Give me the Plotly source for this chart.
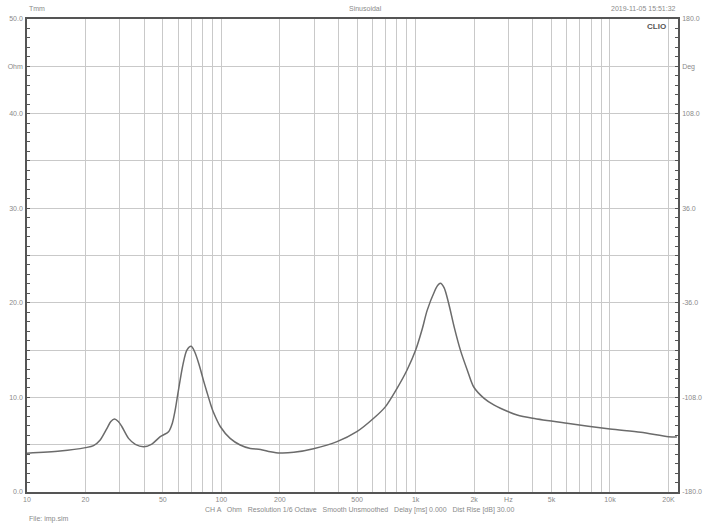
import plotly.graph_objects as go

# impedance curve
freq_hz = [10, 14.8, 20, 22, 23.8, 25.8, 27, 28.2, 29.5, 30.8, 33.3, 36.1, 39.8, 43.9,
           48.5, 53.5, 56, 57.9, 60.2, 63.5, 66.5, 70, 73, 77, 80.9, 84.2, 88, 91.2, 98.9,
           111, 125, 141, 159, 179, 200, 236, 298, 394, 498, 608, 698, 802, 903,
           1000, 1080, 1146, 1250, 1300, 1340, 1400, 1478, 1580, 1699, 1850, 1990,
           2250, 2524, 2729, 3327, 4000, 6010, 10000, 14400, 20000, 22100]
impedance_ohm = [4.10, 4.33, 4.69, 4.90, 5.50, 6.73, 7.45, 7.72, 7.45, 6.90, 5.67, 5.04,
                 4.79, 5.07, 5.85, 6.37, 7.3, 8.67, 10.8, 13.5, 15.0, 15.4, 14.8, 13.4,
                 11.8, 10.6, 9.3, 8.4, 6.9, 5.67, 4.97, 4.60, 4.50, 4.26, 4.12, 4.19, 4.58,
                 5.32, 6.37, 7.79, 9.0, 10.96, 12.9, 15.0, 17.2, 19.2, 21.2, 21.85, 22.06,
                 21.6, 19.95, 17.4, 15.0, 12.8, 11.1, 9.9, 9.2, 8.85, 8.14, 7.79, 7.26,
                 6.66, 6.31, 5.85, 5.81]

# axes
x_grid = [10, 20, 30, 40, 50, 60, 70, 80, 90, 100, 200, 300, 400, 500, 600, 700, 800, 900,
          1000, 2000, 3000, 4000, 5000, 6000, 7000, 8000, 9000, 10000, 20000]
x_labels = {10: "10", 20: "20", 50: "50", 100: "100", 200: "200", 500: "500",
            1000: "1k", 2000: "2k", 3000: "Hz", 5000: "5k", 10000: "10k", 20000: "20K"}
ohm_ticks = [0, 5, 10, 15, 20, 25, 30, 35, 40, 45, 50]
ohm_text = ["0.0", "", "10.0", "", "20.0", "", "30.0", "", "40.0", "Ohm", "50.0"]
deg_ticks = [-180, -144, -108, -72, -36, 0, 36, 72, 108, 144, 180]
deg_text = ["-180.0", "", "-108.0", "", "-36.0", "", "36.0", "", "108.0", "Deg", "180.0"]

grey_txt = "#8a8a8a"
grid_col = "#c9c9c9"
axis_col = "#555555"
tick_font = dict(family="Liberation Sans, Arial, sans-serif", size=7, color=grey_txt)

fig = go.Figure()
fig.add_trace(go.Scatter(x=freq_hz, y=impedance_ohm, mode="lines",
                         line=dict(color="#6b6b6b", width=1.5, shape="spline", smoothing=0.8),
                         showlegend=False, hoverinfo="skip"))
fig.add_trace(go.Scatter(x=[], y=[], yaxis="y2", showlegend=False))

fig.update_layout(
    width=705, height=530,
    margin=dict(l=27, r=27, t=19, b=38, autoexpand=False),
    paper_bgcolor="white", plot_bgcolor="white",
    font=dict(family="Liberation Sans, Arial, sans-serif", size=7, color=grey_txt),
    xaxis=dict(type="log", range=[1.0, 4.35], automargin=False,
               tickvals=x_grid, ticktext=[x_labels.get(v, "") for v in x_grid],
               tickfont=tick_font,
               showgrid=True, gridcolor=grid_col, gridwidth=1.2,
               showline=True, linecolor=axis_col, linewidth=1.5, mirror=True,
               ticks="", zeroline=False),
    yaxis=dict(range=[0, 50], tickvals=ohm_ticks, ticktext=ohm_text, automargin=False,
               tickfont=tick_font, ticklabelstandoff=1,
               showgrid=True, gridcolor=grid_col, gridwidth=1.2,
               showline=True, linecolor=axis_col, linewidth=1.5,
               ticks="inside", ticklen=3, tickcolor=axis_col,
               minor=dict(dtick=1, ticks="inside", ticklen=3, tickcolor=axis_col, showgrid=False),
               zeroline=False),
    yaxis2=dict(range=[-180, 180], overlaying="y", side="right", automargin=False,
                tickvals=deg_ticks, ticktext=deg_text, tickfont=tick_font,
                ticklabelstandoff=1, showgrid=False,
                showline=True, linecolor=axis_col, linewidth=1.5,
                ticks="inside", ticklen=3, tickcolor=axis_col,
                minor=dict(dtick=7.2, ticks="inside", ticklen=3, tickcolor=axis_col, showgrid=False),
                zeroline=False),
)

fig.add_annotation(text="Tmm", xref="paper", yref="paper", x=0, y=1,
                   xanchor="left", yanchor="bottom", yshift=5, showarrow=False)
fig.add_annotation(text="Sinusoidal", xref="paper", yref="paper", x=0.52, y=1,
                   xanchor="center", yanchor="bottom", yshift=5, showarrow=False)
fig.add_annotation(text="2019-11-05 15:51:32", xref="paper", yref="paper", x=1, y=1,
                   xanchor="right", yanchor="bottom", yshift=5, showarrow=False)
fig.add_annotation(text="<b>CLIO</b>", xref="paper", yref="paper", x=0.985, y=1,
                   xanchor="right", yanchor="top", yshift=-1, showarrow=False,
                   font=dict(size=8, color="#555555"))
fig.add_annotation(text="CH A   Ohm   Resolution 1/6 Octave   Smooth Unsmoothed   "
                        "Delay [ms] 0.000   Dist Rise [dB] 30.00",
                   xref="paper", yref="paper", x=0.51, y=0,
                   xanchor="center", yanchor="top", yshift=-12, showarrow=False)
fig.add_annotation(text="File: imp.sim", xref="paper", yref="paper", x=0, y=0,
                   xanchor="left", yanchor="top", yshift=-21, showarrow=False)

# drop the default page margin so the 705x530 figure fills the window
fig.write_html("out.html", config={"displayModeBar": False},
               post_script="document.body.style.margin='0';")
